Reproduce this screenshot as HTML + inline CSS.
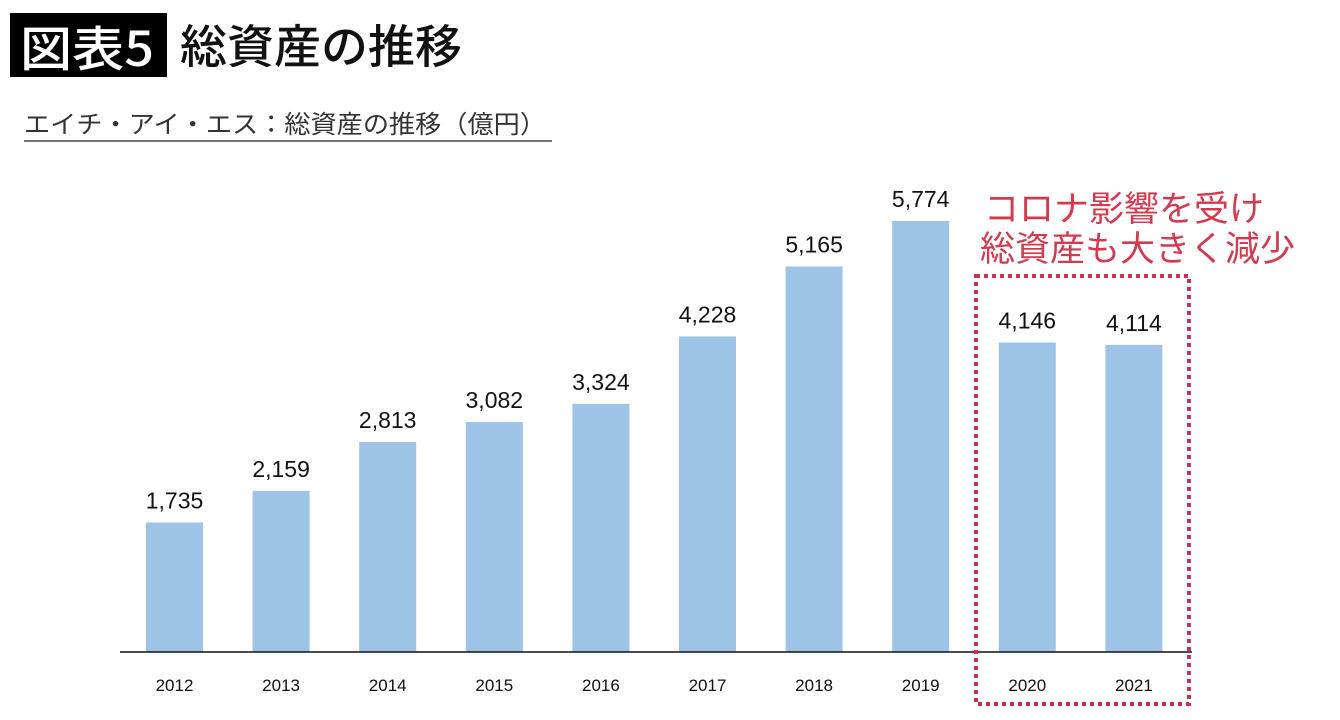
<!DOCTYPE html>
<html><head><meta charset="utf-8">
<style>
body{margin:0;width:1340px;height:720px;background:#fff;overflow:hidden;font-family:"Liberation Sans","Noto Sans CJK JP",sans-serif;}
svg{display:block}
</style></head>
<body>
<svg id="chart" width="1340" height="720" viewBox="0 0 1340 720">
  <rect x="10" y="13" width="157" height="64" fill="#000"/>
  <text x="20" y="66" font-size="48" font-weight="500" fill="#fff" font-family="Noto Sans CJK JP, sans-serif" textLength="134" lengthAdjust="spacingAndGlyphs">図表5</text>
  <text x="180" y="63" font-size="46" font-weight="500" fill="#111" font-family="Noto Sans CJK JP, sans-serif" textLength="282" lengthAdjust="spacingAndGlyphs">総資産の推移</text>
  <text x="24" y="133" font-size="25" fill="#333" font-family="Noto Sans CJK JP, sans-serif" textLength="522" lengthAdjust="spacingAndGlyphs">エイチ・アイ・エス：総資産の推移（億円）</text>
  <line x1="24" y1="141" x2="552" y2="141" stroke="#445" stroke-width="1.5"/>
  <g id="bars"></g>
  <line x1="120" y1="652" x2="1192" y2="652" stroke="#111" stroke-width="1.5"/>
  <rect x="976" y="276" width="213" height="428" fill="none" stroke="#c4344e" stroke-width="4" stroke-dasharray="4 4"/>
  <text x="984" y="221" font-size="35" fill="#d23a50" font-family="Noto Sans CJK JP, sans-serif">コロナ影響を受け</text>
  <text x="980" y="261" font-size="35" fill="#d23a50" font-family="Noto Sans CJK JP, sans-serif">総資産も大きく減少</text>
</svg>
<script>
const categories = ["2012","2013","2014","2015","2016","2017","2018","2019","2020","2021"];
const values = [1735,2159,2813,3082,3324,4228,5165,5774,4146,4114];
const valueLabels = ["1,735","2,159","2,813","3,082","3,324","4,228","5,165","5,774","4,146","4,114"];

const NS = "http://www.w3.org/2000/svg";
const baseY = 652, pxPerUnit = 431/5774;
const x0 = 174.5, step = 106.6, barW = 57;
function xScale(i){ return x0 + i*step; }
function yScale(v){ return baseY - v*pxPerUnit; }
const g = document.getElementById("bars");
categories.forEach((c,i)=>{
  const cx = xScale(i), top = yScale(values[i]);
  const r = document.createElementNS(NS,"rect");
  
  
  r.setAttribute("x", cx - barW/2); r.setAttribute("y", top);
  r.setAttribute("width", barW); r.setAttribute("height", baseY - top);
  r.setAttribute("fill", "#9dc3e6");
  g.appendChild(r);
  const t = document.createElementNS(NS,"text");
  
  
  t.setAttribute("x", cx); t.setAttribute("y", top - 14);
  t.setAttribute("text-anchor","middle"); t.setAttribute("font-size","23");
  t.setAttribute("fill","#111");
  t.textContent = valueLabels[i];
  g.appendChild(t);
  const l = document.createElementNS(NS,"text");
  
  
  l.setAttribute("x", cx); l.setAttribute("y", 691);
  l.setAttribute("text-anchor","middle"); l.setAttribute("font-size","17");
  l.setAttribute("fill","#111");
  l.textContent = c;
  g.appendChild(l);
});
</script>
</body></html>
